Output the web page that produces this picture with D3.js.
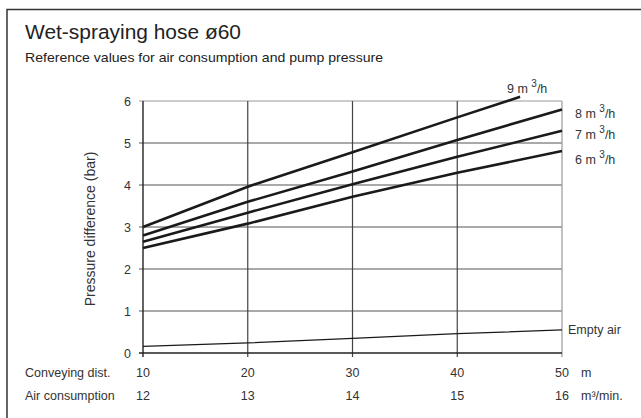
<!DOCTYPE html>
<html>
<head>
<meta charset="utf-8">
<script src="https://cdn.jsdelivr.net/npm/d3@7"></script>
<style>
  body { margin: 0; background: #fff; }
  svg { display: block; font-family: 'Liberation Sans', Arial, sans-serif; }
</style>
</head>
<body>
<div id="chart"></div>
<script>
'use strict';

// data
var distances = [10, 20, 30, 40, 50];
var airConsumption = [12, 13, 14, 15, 16];
var pressureTicks = [0, 1, 2, 3, 4, 5, 6];

var flow9 = [[10, 3.0], [20, 3.96], [30, 4.78], [40, 5.61], [46, 6.1]];
var flow8 = [[10, 2.8], [20, 3.6], [30, 4.32], [40, 5.07], [50, 5.8]];
var flow7 = [[10, 2.65], [20, 3.34], [30, 4.02], [40, 4.67], [50, 5.29]];
var flow6 = [[10, 2.5], [20, 3.08], [30, 3.72], [40, 4.29], [50, 4.81]];
var emptyAir = [[10, 0.16], [20, 0.24], [30, 0.35], [40, 0.46], [50, 0.55]];

var seriesNames = ['9', '8', '7', '6'];

(function () {
  var width = 641,
      height = 418;

  var x = d3.scaleLinear().domain([10, 50]).range([143, 562]);
  var y = d3.scaleLinear().domain([0, 6]).range([353, 101]);

  var svg = d3.select('#chart').append('svg')
      .attr('width', width)
      .attr('height', height);

  // outer frame (only top and left edges are inside the picture)
  svg.append('path')
      .attr('d', 'M7,' + (height + 5) + 'V9.5H' + (width + 5))
      .attr('fill', 'none')
      .attr('stroke', '#333')
      .attr('stroke-width', 1.5);

  svg.append('text')
      .attr('x', 25).attr('y', 39)
      .attr('font-size', 20.5)
      .attr('textLength', 216)
      .attr('lengthAdjust', 'spacingAndGlyphs')
      .attr('fill', '#222')
      .text('Wet-spraying hose ø60');

  svg.append('text')
      .attr('x', 25).attr('y', 62)
      .attr('font-size', 13)
      .attr('textLength', 358)
      .attr('lengthAdjust', 'spacingAndGlyphs')
      .attr('fill', '#222')
      .text('Reference values for air consumption and pump pressure');

  // grid
  var grid = svg.append('g');
  grid.selectAll('.hgrid')
      .data(pressureTicks.slice(1))
    .enter().append('line')
      .attr('x1', x(10) - 4).attr('x2', x(50))
      .attr('y1', function(d) { return y(d); })
      .attr('y2', function(d) { return y(d); })
      .attr('stroke', function(d) { return d === 6 ? '#999' : '#555'; })
      .attr('stroke-width', 1.2);

  grid.selectAll('.vgrid')
      .data(distances.slice(1))
    .enter().append('line')
      .attr('x1', function(d) { return x(d); })
      .attr('x2', function(d) { return x(d); })
      .attr('y1', y(6)).attr('y2', y(0) + 4)
      .attr('stroke', function(d) { return d === 50 ? '#999' : '#444'; })
      .attr('stroke-width', 1.2);

  // axes
  svg.append('line')
      .attr('x1', x(10)).attr('x2', x(10))
      .attr('y1', y(6)).attr('y2', y(0) + 4)
      .attr('stroke', '#222').attr('stroke-width', 1.4);
  svg.append('line')
      .attr('x1', x(10) - 4).attr('x2', x(50))
      .attr('y1', y(0)).attr('y2', y(0))
      .attr('stroke', '#222').attr('stroke-width', 1.4);

  svg.selectAll('.ylab')
      .data(pressureTicks)
    .enter().append('text')
      .attr('x', 131)
      .attr('y', function(d) { return y(d) + 4.5; })
      .attr('text-anchor', 'end')
      .attr('font-size', 12.5)
      .attr('fill', '#333')
      .text(function(d) { return d; });

  svg.append('text')
      .attr('transform', 'translate(95,' + (y(3) + 2) + ') rotate(-90)')
      .attr('text-anchor', 'middle')
      .attr('font-size', 14)
      .attr('fill', '#333')
      .text('Pressure difference (bar)');

  // bottom rows
  svg.selectAll('.dist')
      .data(distances)
    .enter().append('text')
      .attr('x', function(d) { return x(d); })
      .attr('y', 377)
      .attr('text-anchor', 'middle')
      .attr('font-size', 12.5)
      .attr('fill', '#333')
      .text(function(d) { return d; });

  svg.selectAll('.air')
      .data(airConsumption)
    .enter().append('text')
      .attr('x', function(d, i) { return x(distances[i]); })
      .attr('y', 400)
      .attr('text-anchor', 'middle')
      .attr('font-size', 12.5)
      .attr('fill', '#333')
      .text(function(d) { return d; });

  svg.append('text').attr('x', 25).attr('y', 377)
      .attr('font-size', 12.5).attr('fill', '#333').text('Conveying dist.');
  svg.append('text').attr('x', 25).attr('y', 400)
      .attr('font-size', 12.5).attr('fill', '#333').text('Air consumption');
  svg.append('text').attr('x', 581).attr('y', 377)
      .attr('font-size', 12.5).attr('fill', '#333').text('m');
  svg.append('text').attr('x', 581).attr('y', 400)
      .attr('font-size', 12.5).attr('fill', '#333').text('m³/min.');

  // curves
  var line = d3.line()
      .x(function(d) { return x(d[0]); })
      .y(function(d) { return y(d[1]); });

  svg.selectAll('.flow')
      .data([flow9, flow8, flow7, flow6])
    .enter().append('path')
      .attr('d', line)
      .attr('fill', 'none')
      .attr('stroke', '#1a1a1a')
      .attr('stroke-width', 2.6);

  svg.append('path')
      .datum(emptyAir)
      .attr('d', line)
      .attr('fill', 'none')
      .attr('stroke', '#1a1a1a')
      .attr('stroke-width', 1.2);

  // series labels
  var labelPos = [[507, 93], [575, 118], [575, 139], [575, 164]];
  seriesNames.forEach(function(name, i) {
    var t = svg.append('text')
        .attr('x', labelPos[i][0]).attr('y', labelPos[i][1])
        .attr('font-size', 12.5)
        .attr('fill', '#333');
    t.append('tspan').text(name + ' m ');
    t.append('tspan').attr('dy', -6).attr('font-size', 10).text('3');
    t.append('tspan').attr('dy', 6).text('/h');
  });

  svg.append('text')
      .attr('x', 568).attr('y', y(emptyAir[emptyAir.length - 1][1]) + 4.5)
      .attr('font-size', 12.5)
      .attr('fill', '#333')
      .text('Empty air');
})();
</script>
</body>
</html>
